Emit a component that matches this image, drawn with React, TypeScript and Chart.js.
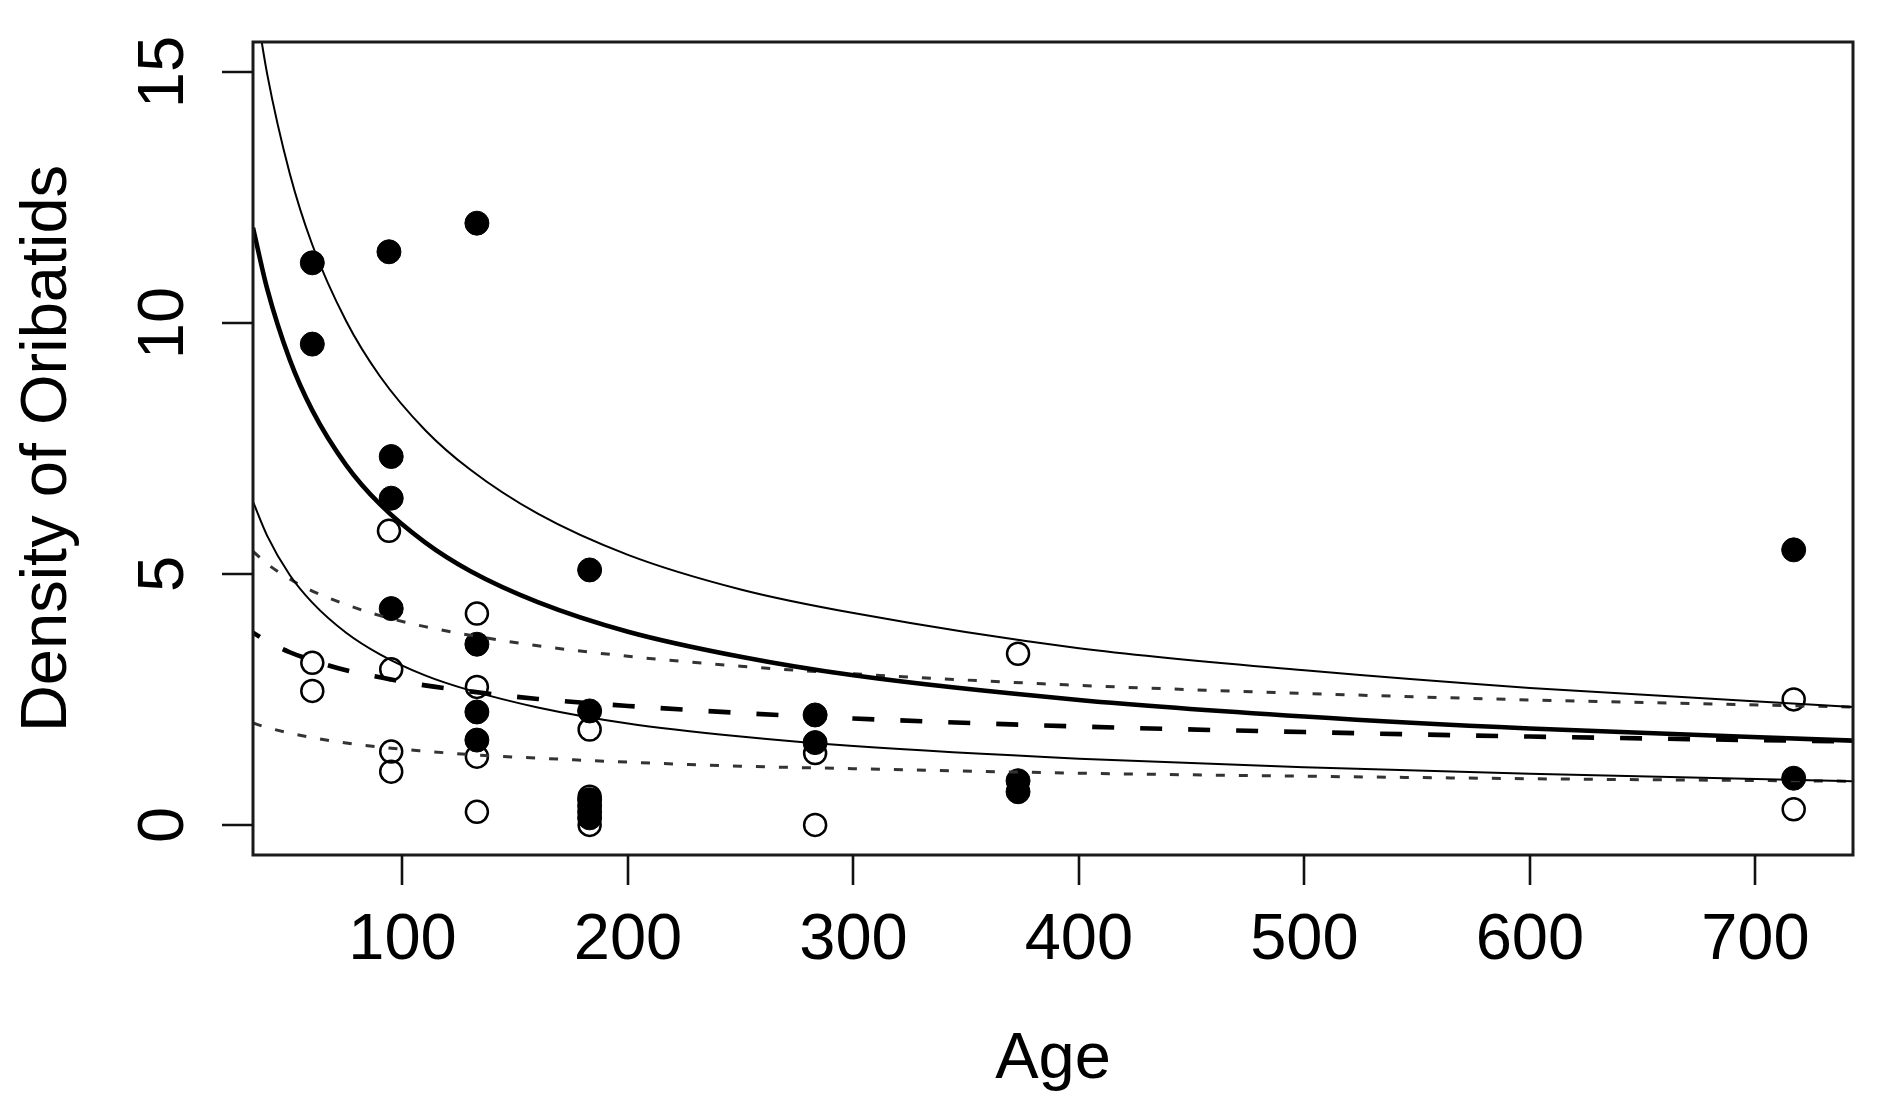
import React, { useEffect, useRef } from "react";
import { Chart, registerables } from "chart.js";

Chart.register(...registerables);

// ---- observed points ----
const filledAge = [60, 60, 94, 95, 95, 95, 133, 133, 133, 133, 183, 183, 183, 183, 183, 183, 283, 283, 373, 373, 717, 717];
const filledDensity = [11.2, 9.58, 11.42, 7.34, 6.51, 4.31, 11.99, 3.6, 2.25, 1.69, 5.08, 2.27, 0.5, 0.38, 0.26, 0.14, 2.19, 1.64, 0.88, 0.66, 5.48, 0.93];

const openAge = [60, 60, 94, 95, 95, 95, 133, 133, 133, 133, 183, 183, 183, 283, 283, 373, 717, 717];
const openDensity = [3.23, 2.67, 5.86, 3.1, 1.46, 1.06, 4.21, 2.75, 1.36, 0.26, 1.9, 0.56, 0.0, 1.43, 0.0, 3.41, 2.5, 0.31];

// ---- fitted curves ----
const curveAge = [33.7, 40, 50, 60, 75, 90, 110, 130, 160, 200, 250, 300, 400, 500, 600, 743.3];
const fitFilled = [11.9, 10.68, 9.27, 8.26, 7.17, 6.39, 5.63, 5.06, 4.44, 3.85, 3.35, 2.98, 2.49, 2.16, 1.92, 1.68];
const upperFilled = [16.7, 14.96, 12.98, 11.56, 10.04, 8.94, 7.87, 7.08, 6.2, 5.38, 4.69, 4.22, 3.52, 3.08, 2.73, 2.35];
const lowerFilled = [6.44, 5.76, 4.98, 4.43, 3.83, 3.4, 2.98, 2.68, 2.34, 2.02, 1.76, 1.57, 1.32, 1.15, 1.02, 0.87];
const fitOpen = [3.83, 3.66, 3.44, 3.28, 3.08, 2.94, 2.78, 2.66, 2.51, 2.37, 2.23, 2.12, 1.96, 1.85, 1.76, 1.66];
const upperOpen = [5.45, 5.2, 4.9, 4.66, 4.39, 4.17, 3.95, 3.78, 3.57, 3.36, 3.16, 3.01, 2.78, 2.62, 2.49, 2.35];
const lowerOpen = [2.03, 1.94, 1.83, 1.74, 1.63, 1.55, 1.47, 1.4, 1.33, 1.25, 1.17, 1.12, 1.03, 0.97, 0.92, 0.87];

// ---- axes ----
const xTicks = [100, 200, 300, 400, 500, 600, 700];
const yTicks = [0, 5, 10, 15];
const xLabel = "Age";
const yLabel = "Density of Oribatids";
const xRange = [33.7, 743.3];
const yRange = [-0.6, 15.6];

const FONT = '"Liberation Sans", Arial, Helvetica, sans-serif';

const pts = (xs: number[], ys: number[]) => xs.map((x, i) => ({ x, y: ys[i] }));

const rAxesPlugin = {
  id: "rAxes",
  afterDraw(chart: any) {
    const { ctx, chartArea: a, scales } = chart;
    const xs = scales.x;
    const ys = scales.y;
    ctx.save();
    // box
    ctx.strokeStyle = "#1a1a1a";
    ctx.lineWidth = 3;
    ctx.strokeRect(a.left, a.top, a.right - a.left, a.bottom - a.top);
    // ticks
    ctx.lineWidth = 2.6;
    ctx.strokeStyle = "#111";
    ctx.beginPath();
    xTicks.forEach((v) => {
      const px = Math.round(xs.getPixelForValue(v));
      ctx.moveTo(px, a.bottom);
      ctx.lineTo(px, a.bottom + 30);
    });
    yTicks.forEach((v) => {
      const py = Math.round(ys.getPixelForValue(v));
      ctx.moveTo(a.left, py);
      ctx.lineTo(a.left - 31, py);
    });
    ctx.stroke();
    // tick labels
    ctx.fillStyle = "#000";
    ctx.font = `65px ${FONT}`;
    ctx.textAlign = "center";
    ctx.textBaseline = "alphabetic";
    xTicks.forEach((v) => {
      ctx.fillText(String(v), xs.getPixelForValue(v), a.bottom + 104);
    });
    yTicks.forEach((v) => {
      ctx.save();
      ctx.translate(a.left - 70, ys.getPixelForValue(v));
      ctx.rotate(-Math.PI / 2);
      ctx.fillText(String(v), 0, 0);
      ctx.restore();
    });
    // axis titles
    ctx.fillText(xLabel, (a.left + a.right) / 2, a.bottom + 223);
    ctx.save();
    ctx.translate(a.left - 187, (a.top + a.bottom) / 2);
    ctx.rotate(-Math.PI / 2);
    ctx.fillText(yLabel, 0, 0);
    ctx.restore();
    ctx.restore();
  },
};

const curve = (ys: number[], width: number, dash: number[], color = "#000", dashOffset = 0) => ({
  type: "line" as const,
  data: pts(curveAge, ys),
  showLine: true,
  borderColor: color,
  borderWidth: width,
  borderDash: dash,
  borderDashOffset: dashOffset,
  pointRadius: 0,
  cubicInterpolationMode: "monotone" as const,
  fill: false,
});

export default function App() {
  const ref = useRef<HTMLCanvasElement | null>(null);
  useEffect(() => {
    if (!ref.current) return;
    const chart = new Chart(ref.current, {
      type: "scatter",
      data: {
        datasets: [
          curve(fitFilled, 4.6, []),
          curve(upperFilled, 2, []),
          curve(lowerFilled, 2, []),
          curve(fitOpen, 4.6, [22, 26], "#000", 14),
          curve(upperOpen, 3, [9, 14], "#333"),
          curve(lowerOpen, 3, [9, 14], "#333"),
          {
            type: "scatter",
            data: pts(filledAge, filledDensity),
            pointRadius: 12,
            pointBackgroundColor: "#000",
            pointBorderColor: "#000",
            pointBorderWidth: 1,
            showLine: false,
          },
          {
            type: "scatter",
            data: pts(openAge, openDensity),
            pointRadius: 11,
            pointBackgroundColor: "rgba(0,0,0,0)",
            pointBorderColor: "#000",
            pointBorderWidth: 2.5,
            showLine: false,
          },
        ] as any,
      },
      options: {
        animation: false,
        responsive: false,
        devicePixelRatio: 1,
        events: [],
        layout: { padding: { left: 253, right: 24, top: 42, bottom: 253 } },
        plugins: { legend: { display: false }, tooltip: { enabled: false } },
        scales: {
          x: { type: "linear", min: xRange[0], max: xRange[1], display: false },
          y: { type: "linear", min: yRange[0], max: yRange[1], display: false },
        },
      },
      plugins: [rAxesPlugin],
    });
    return () => chart.destroy();
  }, []);
  return (
    <div style={{ position: "fixed", left: 0, top: 0, width: 1877, height: 1108, background: "#fff" }}>
      <canvas ref={ref} width={1877} height={1108} style={{ width: 1877, height: 1108, display: "block" }} />
    </div>
  );
}
